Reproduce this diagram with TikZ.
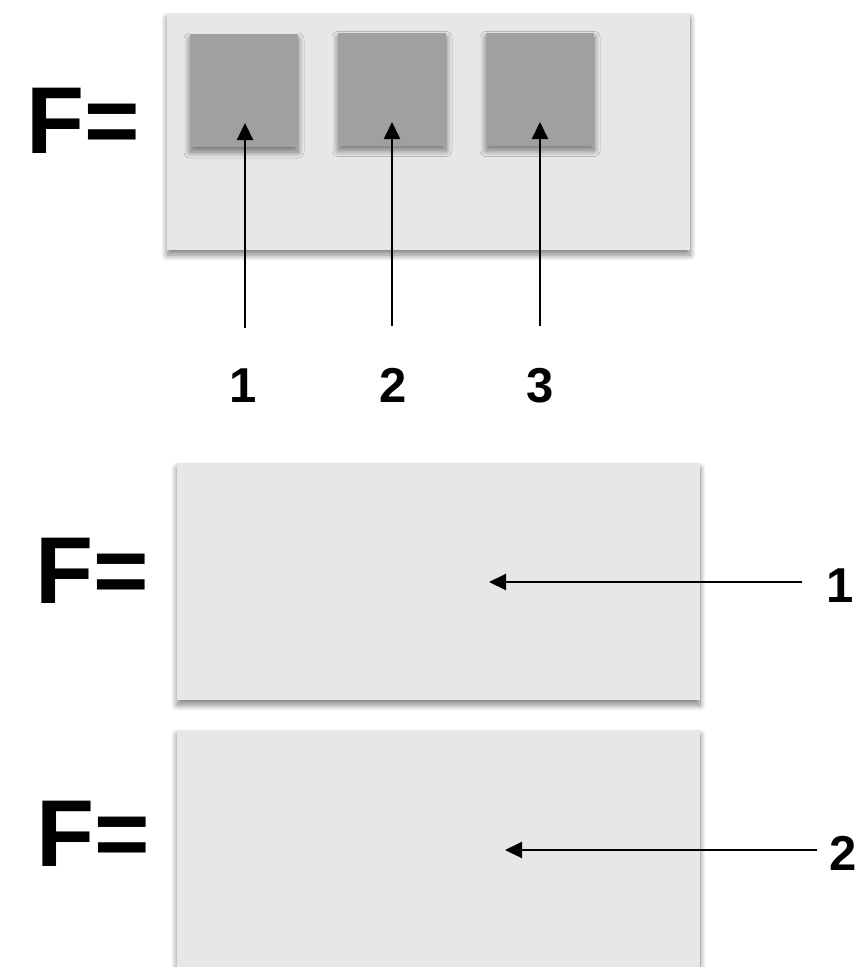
\documentclass[tikz,border=0pt]{standalone}
\usepackage{fontspec}
\setmainfont{Liberation Sans}
\usetikzlibrary{arrows.meta,shadows.blur}

\definecolor{panelgrey}{HTML}{E7E7E7}
\definecolor{cellgrey}{HTML}{A0A0A0}

\tikzset{
  softshadow/.style={blur shadow={shadow xshift=0pt, shadow yshift=-5pt,
    shadow blur radius=6pt, shadow blur steps=12, shadow opacity=50}},
  panel/.style={rectangle, fill=panelgrey, inner sep=0pt, outer sep=0pt, softshadow},
  cell/.style={rectangle, fill=cellgrey, inner sep=0pt, outer sep=0pt,
    minimum width=108pt, minimum height=113pt, softshadow},
  bigF/.style={font=\bfseries\fontsize{95}{95}\selectfont, anchor=base, inner sep=0pt},
  idx/.style={font=\bfseries\fontsize{49}{49}\selectfont, anchor=base, inner sep=0pt},
  pointer/.style={line width=2pt, -{Triangle[length=17pt,width=16pt]}}
}

\begin{document}
\begin{tikzpicture}[x=1pt,y=-1pt]
\useasboundingbox (0,0) rectangle (864,967);
\clip (0,0) rectangle (864,967);

% top row: one panel holding three cells
\node[panel, minimum width=523pt, minimum height=237pt] (top) at (428.5,131.5) {};
\node[cell] (c1) at (244,90.5) {};
\node[cell] (c2) at (392,89) {};
\node[cell] (c3) at (540,89) {};
\node[bigF] (f1) at (83,153) {F=};

\node[idx] (n1) at (243,402) {1};
\node[idx] (n2) at (393,402) {2};
\node[idx] (n3) at (540,402) {3};

\coordinate (t1) at (245,123);
\coordinate (t2) at (392,122);
\coordinate (t3) at (540,122);
\coordinate (s1) at (245,328);
\coordinate (s2) at (392,326);
\coordinate (s3) at (540,326);
\draw[pointer] (s1) -- (t1);
\draw[pointer] (s2) -- (t2);
\draw[pointer] (s3) -- (t3);

% middle row
\node[panel, minimum width=523pt, minimum height=237pt] (mid) at (438.5,581.5) {};
\node[bigF] (f2) at (92,603) {F=};
\node[idx] (m1) at (840,602) {1};
\coordinate (ms) at (802,582);
\coordinate (mt) at (489,582);
\draw[pointer] (ms) -- (mt);

% bottom row
\node[panel, minimum width=523pt, minimum height=300pt] (bot) at (438.5,880) {};
\node[bigF] (f3) at (93,866) {F=};
\node[idx] (b2) at (843,870) {2};
\coordinate (bs) at (817,850);
\coordinate (bt) at (505,850);
\draw[pointer] (bs) -- (bt);
\end{tikzpicture}
\end{document}
